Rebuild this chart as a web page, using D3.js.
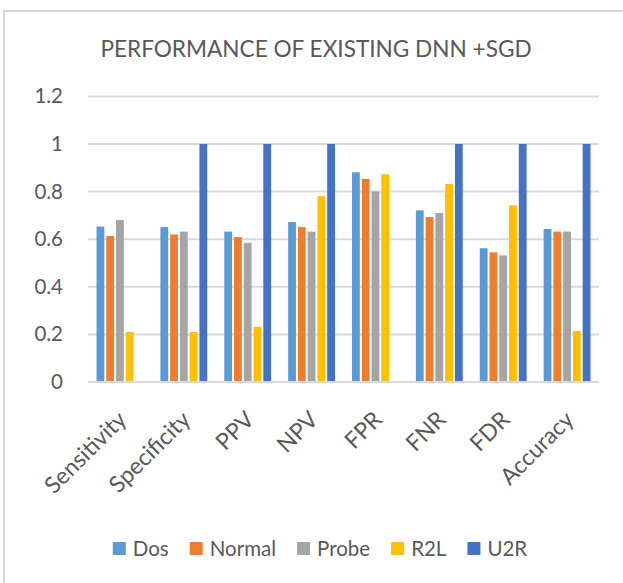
<!DOCTYPE html>
<html>
<head>
<meta charset="utf-8">
<script src="https://cdn.jsdelivr.net/npm/d3@7"></script>
<style>
  html, body { margin: 0; padding: 0; background: #fff; }
  svg { display: block; font-family: Lato, "Open Sans", sans-serif; }
</style>
</head>
<body>
<svg id="chart" width="623" height="583"></svg>
<script>
// Metrics along the x axis
const categories = ["Sensitivity", "Specificity", "PPV", "NPV", "FPR", "FNR", "FDR", "Accuracy"];
// Traffic classes
const seriesNames = ["Dos", "Normal", "Probe", "R2L", "U2R"];
const seriesColors = ["#5B9BD5", "#ED7D31", "#A5A5A5", "#FFC000", "#4472C4"];
// Scores per class, one entry per metric
const dosValues    = [0.653, 0.651, 0.632, 0.672, 0.881, 0.721, 0.562, 0.643];
const normalValues = [0.613, 0.620, 0.609, 0.651, 0.853, 0.693, 0.545, 0.632];
const probeValues  = [0.681, 0.632, 0.585, 0.632, 0.801, 0.710, 0.532, 0.632];
const r2lValues    = [0.210, 0.210, 0.232, 0.781, 0.873, 0.832, 0.742, 0.214];
const u2rValues    = [0, 1, 1, 1, 0, 1, 1, 1];
const yTicks = [0, 0.2, 0.4, 0.6, 0.8, 1, 1.2];
const yTickLabels = ["0", "0.2", "0.4", "0.6", "0.8", "1", "1.2"];
const title = "PERFORMANCE OF EXISTING DNN +SGD";

const seriesValues = [dosValues, normalValues, probeValues, r2lValues, u2rValues];
const textColor = "#595959";
const gridColor = "#d9d9d9";

const svg = d3.select("#chart");

// outer chart frame
svg.append("rect")
  .attr("x", 4).attr("y", 11)
  .attr("width", 700).attr("height", 700)
  .attr("fill", "none").attr("stroke", gridColor).attr("stroke-width", 2);

const plot = { left: 88, right: 599, top: 96, bottom: 382 };

const x0 = d3.scaleBand()
  .domain(categories)
  .range([plot.left, plot.right])
  .paddingInner(0.236)
  .paddingOuter(0.118);

const x1 = d3.scaleBand()
  .domain(seriesNames)
  .range([0, x0.bandwidth()])
  .paddingInner(0.2)
  .paddingOuter(0.1);

const y = d3.scaleLinear().domain([0, 1.2]).range([plot.bottom, plot.top + 0.4]);

// title
svg.append("text")
  .attr("x", 316).attr("y", 57)
  .attr("text-anchor", "middle")
  .attr("fill", textColor)
  .attr("font-size", 22.6)
  .text(title);

// horizontal gridlines
svg.append("g")
  .selectAll("line")
  .data(yTicks)
  .join("line")
  .attr("x1", plot.left).attr("x2", plot.right)
  .attr("y1", d => y(d)).attr("y2", d => y(d))
  .attr("stroke", gridColor).attr("stroke-width", 2);

// y axis labels
const yAxis = d3.axisLeft(y)
  .tickValues(yTicks)
  .tickFormat((d, i) => yTickLabels[i])
  .tickSize(0)
  .tickPadding(0);
const yAxisG = svg.append("g")
  .attr("transform", `translate(63,0)`)
  .call(yAxis);
yAxisG.select(".domain").remove();
yAxisG.selectAll("text")
  .attr("fill", textColor)
  .attr("font-size", 20.5)
  .attr("font-family", "Lato, 'Open Sans', sans-serif");

// bars
const groups = svg.append("g")
  .selectAll("g")
  .data(categories)
  .join("g")
  .attr("transform", c => `translate(${x0(c)},0)`);

groups.selectAll("rect")
  .data((c, ci) => seriesNames.map((s, si) => ({ s, si, v: seriesValues[si][ci] })))
  .join("rect")
  .attr("x", d => x1(d.s))
  .attr("width", x1.bandwidth())
  .attr("y", d => y(d.v))
  .attr("height", d => y(0) - y(d.v))
  .attr("fill", d => seriesColors[d.si]);

// x axis baseline
svg.append("line")
  .attr("x1", plot.left).attr("x2", plot.right)
  .attr("y1", y(0)).attr("y2", y(0))
  .attr("stroke", gridColor).attr("stroke-width", 2);

// rotated category labels
const xAxis = d3.axisBottom(x0).tickSize(0).tickPadding(0);
const xAxisG = svg.append("g")
  .attr("transform", `translate(0,${y(0)})`)
  .call(xAxis);
xAxisG.select(".domain").remove();
xAxisG.selectAll("text")
  .attr("fill", textColor)
  .attr("font-size", 23)
  .attr("font-family", "Lato, 'Open Sans', sans-serif")
  .attr("text-anchor", "end")
  .attr("dy", null)
  .attr("y", 0)
  .attr("transform", "translate(8,39) rotate(-45)");

// legend
const legend = svg.append("g").attr("transform", "translate(0,556)");
const items = legend.selectAll("g")
  .data(seriesNames)
  .join("g");
items.append("rect")
  .attr("width", 13).attr("height", 13)
  .attr("y", -14)
  .attr("fill", (d, i) => seriesColors[i]);
items.append("text")
  .attr("x", 20)
  .attr("fill", textColor)
  .attr("font-size", 20.5)
  .text(d => d);
const widths = [];
items.each(function () {
  widths.push(20 + d3.select(this).select("text").node().getComputedTextLength());
});
const gap = 21;
const total = d3.sum(widths) + gap * (widths.length - 1);
let cursor = 320 - total / 2;
items.attr("transform", (d, i) => {
  const t = `translate(${cursor},0)`;
  cursor += widths[i] + gap;
  return t;
});
</script>
</body>
</html>
